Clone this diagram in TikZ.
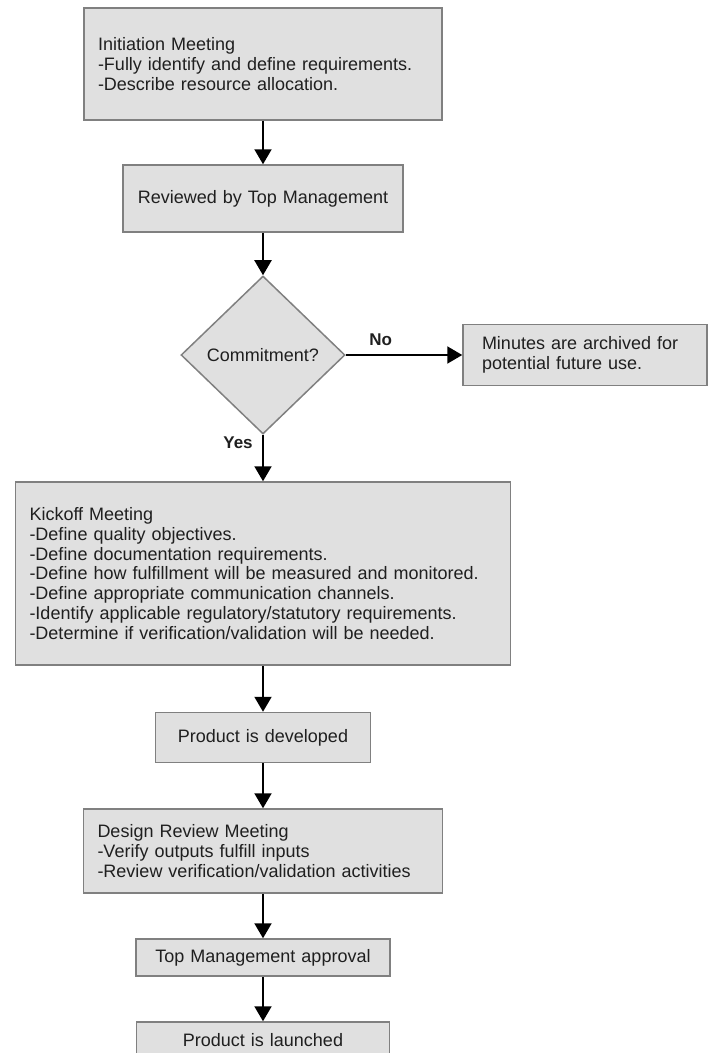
\documentclass[tikz,border=0pt]{standalone}
\usepackage{fontspec}
\setmainfont{Liberation Sans}
\usetikzlibrary{shapes.geometric,arrows.meta}
\definecolor{boxfill}{RGB}{224,224,224}
\definecolor{boxline}{RGB}{128,128,128}
\tikzset{
  stepbox/.style={draw=boxline,fill=boxfill,line width=1.5pt,inner xsep=14pt,inner ysep=0pt,
    align=left,text=black!88,font=\fontsize{18}{19.8}\selectfont},
  decision/.style={diamond,draw=boxline,fill=boxfill,line width=1.5pt,inner sep=0pt,aspect=1.04,
    minimum width=164pt,minimum height=158pt,text=black!88,font=\fontsize{18}{19.8}\selectfont},
  lbl/.style={text=black!88,font=\fontsize{17}{19}\selectfont\bfseries},
}
\begin{document}
\begin{tikzpicture}[x=1pt,y=-1pt,>={Triangle[length=15pt,width=17pt]},line width=2pt]
  \useasboundingbox (0,0) rectangle (709,1053);
  \node[stepbox,text width=330pt,minimum height=112pt] (init) at (263,64)
    {Initiation Meeting\\-Fully identify and define requirements.\\-Describe resource allocation.\\[6pt]};
  \node[stepbox,text width=252pt,minimum height=67pt,align=center] (rev) at (263,198.5) {Reviewed by Top Management};
  \node[decision] (commit) at (263,355) {Commitment?};
  \node[stepbox,text width=206pt,inner xsep=19pt,minimum height=61pt] (arch) at (585,355)
    {Minutes are archived for\\potential future use.};
  \node[stepbox,text width=467pt,minimum height=183pt] (kick) at (263,573.5)
    {Kickoff Meeting\\-Define quality objectives.\\-Define documentation requirements.\\
     -Define how fulfillment will be measured and monitored.\\-Define appropriate communication channels.\\
     -Identify applicable regulatory/statutory requirements.\\-Determine if verification/validation will be needed.};
  \node[stepbox,text width=187pt,minimum height=50pt,align=center] (dev) at (263,737.5) {Product is developed};
  \node[stepbox,text width=331pt,minimum height=84pt] (drm) at (263,851)
    {Design Review Meeting\\-Verify outputs fulfill inputs\\-Review verification/validation activities};
  \node[stepbox,text width=226pt,minimum height=37pt,align=center] (appr) at (263,957.5) {Top Management approval};
  \node[stepbox,text width=225pt,minimum height=36pt,align=center] (launch) at (263,1040) {Product is launched};
  \draw[->] (init) -- (rev);
  \draw[->] (rev) -- (commit);
  \draw[->] (commit) -- node[lbl,above=5pt,pos=0.3]{No} (arch);
  \draw[->] (commit) -- node[lbl,left=6pt,pos=0.17]{Yes} (kick);
  \draw[->] (kick) -- (dev);
  \draw[->] (dev) -- (drm);
  \draw[->] (drm) -- (appr);
  \draw[->] (appr) -- (launch);
\end{tikzpicture}
\end{document}
